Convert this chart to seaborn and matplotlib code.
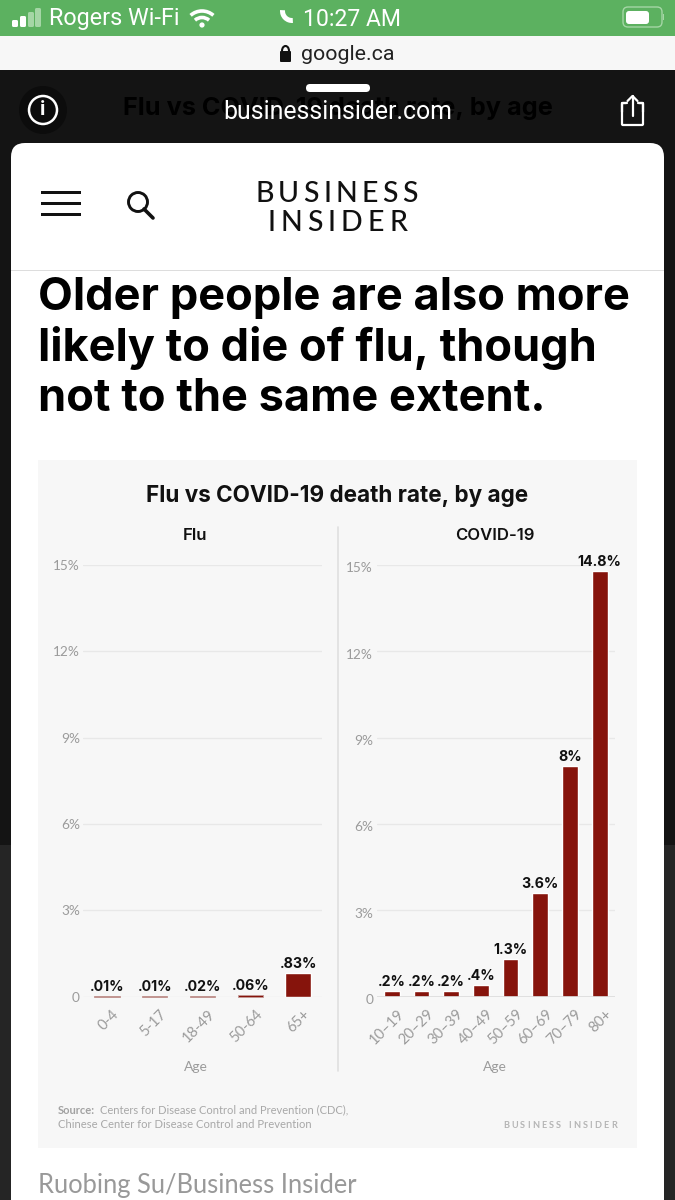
import matplotlib
matplotlib.use("Agg")
import matplotlib.pyplot as plt
from matplotlib.patches import Arc, Circle, FancyBboxPatch, Rectangle
import pandas as pd
import seaborn as sns

sns.set_theme(style="white")
plt.rcParams['font.family'] = ['Inter', 'DejaVu Sans']

flu_ages = ["0-4", "5-17", "18-49", "50-64", "65+"]
flu_rates = [0.01, 0.01, 0.02, 0.06, 0.83]
flu_labels = [".01%", ".01%", ".02%", ".06%", ".83%"]

covid_ages = ["10–19", "20–29", "30–39", "40–49", "50–59", "60–69", "70–79", "80+"]
covid_rates = [0.2, 0.2, 0.2, 0.4, 1.3, 3.6, 8, 14.8]
covid_labels = [".2%", ".2%", ".2%", ".4%", "1.3%", "3.6%", "8%", "14.8%"]

y_ticks = [0, 3, 6, 9, 12, 15]
y_ticklabels = ["0", "3%", "6%", "9%", "12%", "15%"]

W, H = 675, 1200
BAR = "#86140c"
GREY = "#9b9b9b"
DARK = "#141414"

fig = plt.figure(figsize=(W / 100, H / 100), dpi=100, facecolor=DARK)

# page furniture, drawn in pixel coordinates
bg = fig.add_axes([0, 0, 1, 1])
bg.set_xlim(0, W)
bg.set_ylim(H, 0)
bg.axis("off")


def box(x0, y0, x1, y1, color, **kw):
    bg.add_patch(Rectangle((x0, y0), x1 - x0, y1 - y0, color=color, lw=0, **kw))


def pill(x0, y0, x1, y1, r, fc, ec="none", lw=0):
    bg.add_patch(FancyBboxPatch((x0 + r, y0 + r), x1 - x0 - 2 * r, y1 - y0 - 2 * r,
                                boxstyle="round,pad=%f" % r, fc=fc, ec=ec, lw=lw))


def spaced(txt, x0, x1, y, size, color, family="Lato", weight="normal"):
    # no letter-spacing in matplotlib, so spread the letters by hand
    rend = fig.canvas.get_renderer()
    items = [bg.text(0, y, c, fontsize=size, color=color, family=family, weight=weight,
                     va="center", ha="left") for c in txt]
    widths = [t.get_window_extent(rend).width if c != " " else size * 0.5 for t, c in zip(items, txt)]
    gap = (x1 - x0 - sum(widths)) / (len(txt) - 1)
    x = x0
    for t, w in zip(items, widths):
        t.set_x(x)
        x += w + gap


box(0, 845, W, H, "#252525")
box(0, 0, W, 36, "#5cb160")
box(0, 36, W, 70, "#f7f7f7")

# status bar
for x, top, col in [(12, 20, "white"), (20, 16, "white"), (28, 12, "#a5d6a6"), (35, 8, "#a5d6a6")]:
    pill(x, top, x + 6, 27, 1.5, col)
bg.text(49, 19, "Rogers Wi-Fi", fontsize=16.8, color="white", family="Roboto", va="center")
for r, lw in [(17, 2.6), (10.5, 2.6)]:
    bg.add_patch(Arc((202, 28), 2 * r, 2 * r, theta1=228, theta2=312, color="white", lw=lw))
bg.add_patch(Circle((202, 25), 2.6, color="white", lw=0))
bg.add_patch(Arc((292, 11), 19, 19, theta1=85, theta2=185, color="white", lw=3.6))
bg.text(352, 19, "10:27 AM", fontsize=16.6, color="white", family="Roboto", va="center", ha="center")
pill(623, 7, 662, 27, 5, "none", ec="#a5d6a6", lw=1)
pill(626, 11, 649, 24, 3, "white")
box(663, 14, 664, 20, "#a5d6a6")

# address bar
pill(280, 51, 291, 62, 1, "#111111")
bg.add_patch(Arc((285.5, 51), 7, 10, theta1=180, theta2=360, color="#111111", lw=1.5))
bg.text(347.5, 54, "google.ca", fontsize=15.4, color="#222222", family="Roboto", va="center", ha="center")

# handle, ghost title, host, buttons
pill(306, 84, 370, 92, 4, "white")
bg.text(338, 109, "Flu vs COVID-19 death rate, by age", fontsize=18.2, weight="bold", color="black",
        va="center", ha="center")
bg.add_patch(Circle((43, 110), 24, color="#0c0c0c", lw=0))
bg.add_patch(Circle((43, 110), 14, fc="none", ec="white", lw=1.8))
bg.text(43, 110, "i", fontsize=14, weight="bold", color="white", va="center", ha="center")
bg.text(337.5, 112, "businessinsider.com", fontsize=17.9, color="white", family="Roboto", va="center", ha="center")
pill(622, 103, 643, 125, 1, "none", ec="white", lw=1.6)
box(626, 97, 639, 112, DARK)
bg.plot([632.5, 632.5], [96, 116], color="white", lw=1.6)
bg.plot([627.5, 632.5, 637.5], [101, 96, 101], color="white", lw=1.6)
bg.plot([622, 622, 627], [112, 103, 103], color="white", lw=1.6)
bg.plot([643, 643, 638], [112, 103, 103], color="white", lw=1.6)

# card
pill(11, 143, 664, 1300, 14, "white")
box(11, 270, 664, 271, "#dddddd")
for y in [192, 203, 214]:
    box(41, y - 1.5, 81, y + 1.5, "#111111")
bg.add_patch(Circle((138, 202), 9.5, fc="none", ec="#111111", lw=2.1))
bg.plot([144, 153], [209, 218], color="#111111", lw=2.6)
spaced("BUSINESS", 255, 418, 194, 20.5, "#111111", weight="medium")
spaced("INSIDER", 267, 407, 223, 20.5, "#111111", weight="medium")

# heading
for y, line in [(298, "Older people are also more"), (348, "likely to die of flu, though"),
                (399, "not to the same extent.")]:
    bg.text(38, y, line, fontsize=32.5, weight="bold", color="black", va="center")

# chart panel
box(38, 460, 637, 1148, "#f7f7f7")
bg.plot([338, 338], [527, 1071], color="#dfdfdf", lw=1.2)
bg.text(337.5, 496, "Flu vs COVID-19 death rate, by age", fontsize=16.2, weight="bold", color="#111111",
        va="center", ha="center")
bg.text(195.5, 536, "Flu", fontsize=12, weight="semibold", color="#111111", va="center", ha="center")
bg.text(495, 536, "COVID-19", fontsize=12, weight="semibold", color="#111111", va="center", ha="center")


def panel(ages, rates, labels, x0, x1, ylab_x, ylab_dy, age_x, baseline):
    # y range: 15% sits at y=565, 0 at y=996.5
    ax = fig.add_axes([x0 / W, 1 - 996.5 / H, (x1 - x0) / W, 431.5 / H])
    ax.patch.set_alpha(0)
    df = pd.DataFrame({"age": ages, "rate": rates})
    sns.barplot(data=df, x="age", y="rate", color=BAR, saturation=1, width=0.53, ax=ax)
    ax.set_ylim(0, 15)
    ax.set_xlim(-0.5, len(ages) - 0.5)
    ax.set_yticks(y_ticks)
    ax.set_yticklabels([])
    ax.set_xticks(range(len(ages)))
    ax.set_xticklabels([])
    ax.set_xlabel("")
    ax.set_ylabel("")
    ax.tick_params(length=0)
    sns.despine(ax=ax, left=True, bottom=True)
    ax.grid(axis="y", color="#e8e8e8", lw=1)
    ax.set_axisbelow(True)
    if baseline:
        ax.axhline(0, color="#dcdcdc", lw=1.2, zorder=1)
    # very small bars still show as a thin pale line
    for p in ax.containers[0]:
        if p.get_height() < 0.1:
            p.set_edgecolor("#c39a96")
            p.set_linewidth(0.6)
            p.set_clip_on(False)
    ax.bar_label(ax.containers[0], labels=labels, fontsize=10.2, weight="bold", color="#111111", padding=1.5)
    for t, lab in zip(y_ticks, y_ticklabels):
        px = 996.5 - t * 431.5 / 15 + ylab_dy
        bg.text(ylab_x, px, lab, fontsize=9.8, color=GREY, family="Lato", ha="right", va="center")
    step = (x1 - x0) / len(ages)
    for i, a in enumerate(ages):
        bg.text(x0 + (i + 0.5) * step + 5, 1007, a, fontsize=10.6, color=GREY, family="Lato", rotation=45,
                rotation_mode="anchor", ha="right", va="top")
    bg.text(age_x, 1067, "Age", fontsize=10, color=GREY, family="Lato", ha="center", va="center")
    return ax


flu_ax = panel(flu_ages, flu_rates, flu_labels, 83, 322, 80, 1, 195.5, False)
covid_ax = panel(covid_ages, covid_rates, covid_labels, 377, 614.5, 373, 3.5, 495, True)

# footer
bg.text(58, 1110, "Source:", fontsize=8, weight="bold", color="#a2a2a2", family="Lato", va="center")
bg.text(100, 1110, "Centers for Disease Control and Prevention (CDC),", fontsize=8, color="#a8a8a8", family="Lato", va="center")
bg.text(58, 1125, "Chinese Center for Disease Control and Prevention", fontsize=8.1, color="#a8a8a8", family="Lato", va="center")
spaced("BUSINESS INSIDER", 503, 617, 1125, 6.6, "#b5b5b5", weight="bold")
bg.text(38, 1186, "Ruobing Su/Business Insider", fontsize=18.4, color="#999999", family="Lato", va="center")

fig.savefig("out.png", dpi=100, facecolor=fig.get_facecolor())
